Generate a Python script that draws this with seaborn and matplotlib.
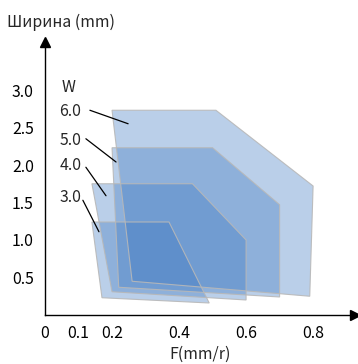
import numpy as np
import pandas as pd
import matplotlib
matplotlib.use("Agg")
import matplotlib.pyplot as plt
import seaborn as sns

# width classes W and the outline of each working area (F in mm/r, width in mm)
widths = ["6.0", "5.0", "4.0", "3.0"]
feed_6 = [0.20, 0.51, 0.80, 0.79, 0.26]
width_6 = [2.73, 2.73, 1.72, 0.25, 0.45]
feed_5 = [0.20, 0.50, 0.70, 0.70, 0.22]
width_5 = [2.23, 2.23, 1.47, 0.24, 0.37]
feed_4 = [0.14, 0.44, 0.60, 0.60, 0.20]
width_4 = [1.75, 1.75, 1.00, 0.20, 0.31]
feed_3 = [0.14, 0.37, 0.49, 0.17]
width_3 = [1.24, 1.24, 0.16, 0.23]

x_ticks = [0, 0.1, 0.2, 0.4, 0.6, 0.8]
x_labels = ["0", "0.1", "0.2", "0.4", "0.6", "0.8"]
y_ticks = [0.5, 1.0, 1.5, 2.0, 2.5, 3.0]
y_labels = ["0.5", "1.0", "1.5", "2.0", "2.5", "3.0"]

# label text position and leader line (start -> end) for each W
label_y = [2.71, 2.33, 1.99, 1.57]
leader_x0 = [0.134, 0.122, 0.122, 0.113]
leader_y0 = [2.73, 2.35, 1.97, 1.53]
leader_x1 = [0.248, 0.212, 0.182, 0.161]
leader_y1 = [2.55, 2.04, 1.59, 1.11]

rows = []
for w, fx, wy in zip(widths, [feed_6, feed_5, feed_4, feed_3],
                     [width_6, width_5, width_4, width_3]):
    for i, (a, b) in enumerate(zip(fx, wy)):
        rows.append({"W": w, "order": i, "F": a, "width": b})
df = pd.DataFrame(rows)

sns.set_style("white")
plt.rcParams['font.family'] = ['Noto Sans CJK SC', 'DejaVu Sans']
fs = 11.4

fig = plt.figure(figsize=(3.58, 3.64), dpi=100)
ax = fig.add_axes([45 / 358, 49 / 364, 310 / 358, 273 / 364])

for w in widths:
    part = df[df["W"] == w].sort_values("order")
    ax.fill(part["F"], part["width"], facecolor=(0.25, 0.48, 0.76), alpha=0.36,
            edgecolor="none", zorder=2)
    ax.fill(part["F"], part["width"], facecolor="none", edgecolor="#b8b8b8",
            linewidth=0.8, alpha=0.9, zorder=3)

ax.set_xlim(0, 0.925)
ax.set_ylim(0, 3.64)
sns.despine(ax=ax)
ax.spines["left"].set_color("black")
ax.spines["bottom"].set_color("black")
ax.spines["left"].set_linewidth(1.0)
ax.spines["bottom"].set_linewidth(1.0)

# arrow heads on the axes
ax.plot(1, 0, ">k", markersize=7, transform=ax.get_yaxis_transform(), clip_on=False)
ax.plot(0, 1, "^k", markersize=7, transform=ax.get_xaxis_transform(), clip_on=False)

ax.set_xticks(x_ticks)
ax.set_xticklabels(x_labels)
ax.set_yticks(y_ticks)
ax.set_yticklabels(y_labels)
ax.tick_params(axis="x", direction="in", length=4.5, width=1, pad=7, labelsize=fs,
               colors="black")
ax.tick_params(axis="y", direction="in", length=6, width=1, pad=8, labelsize=fs,
               colors="black")
ax.xaxis.get_major_ticks()[0].tick1line.set_visible(False)

ax.set_xlabel("F(mm/r)", fontsize=fs, labelpad=3)
ax.set_ylabel("")
fig.text(7 / 358, 1 - 22 / 364, "Ширина (mm)", fontsize=fs, va="center", ha="left")

ax.text(0.069, 3.03, "W", ha="center", va="center", fontsize=fs, clip_on=False)
for w, ty, x0, y0, x1, y1 in zip(widths, label_y, leader_x0, leader_y0,
                                 leader_x1, leader_y1):
    ax.text(0.075, ty, w, ha="center", va="center", fontsize=fs, clip_on=False)
    ax.plot([x0, x1], [y0, y1], color="black", linewidth=0.9, zorder=4)

fig.savefig("out.png", dpi=100)
